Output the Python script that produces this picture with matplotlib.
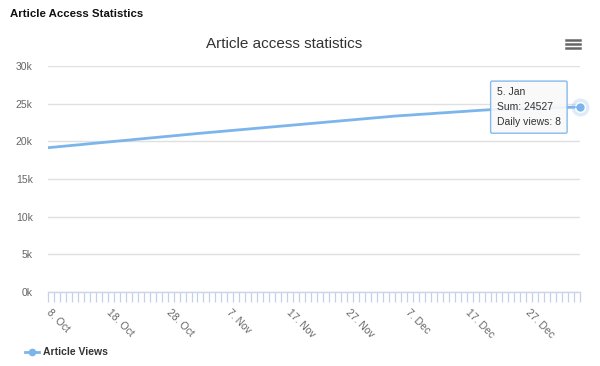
import datetime as dt

import matplotlib.pyplot as plt
import matplotlib.dates as mdates
from matplotlib.ticker import FixedLocator, FuncFormatter
from matplotlib.transforms import ScaledTranslation

plt.rcParams["font.family"] = ["Liberation Sans", "DejaVu Sans"]

# Cumulative article views per day
start_day = dt.date(2017, 10, 8)
total_views = [
    19150, 19220, 19300, 19370, 19450, 19520, 19600, 19680, 19750, 19830,
    19900, 19980, 20050, 20120, 20200, 20280, 20350, 20430, 20500, 20580,
    20650, 20730, 20800, 20880,                                      # Oct
    20950, 21030, 21100, 21170, 21240, 21310, 21380, 21450, 21520, 21590,
    21660, 21730, 21800, 21870, 21940, 22010, 22080, 22150, 22220, 22290,
    22360, 22430, 22500, 22570, 22640, 22710, 22780, 22850, 22920, 22990,  # Nov
    23060, 23130, 23200, 23270, 23340, 23400, 23450, 23500, 23560, 23610,
    23660, 23720, 23770, 23820, 23880, 23930, 23980, 24040, 24090, 24140,
    24190, 24220, 24250, 24270, 24290, 24310, 24330, 24360, 24380, 24400,
    24430,                                                           # Dec
    24450, 24480, 24500, 24519, 24527,                               # Jan
]
days = [start_day + dt.timedelta(days=i) for i in range(len(total_views))]
y_ticks = [0, 5000, 10000, 15000, 20000, 25000, 30000]
label_every = 10

tooltip_date = "5. Jan"
tooltip_sum = 24527
tooltip_daily = 8

line_color = "#7cb5ec"
text_color = "#333333"
label_color = "#666666"

fig = plt.figure(figsize=(6, 3.66), dpi=100)
ax = fig.add_axes([0.08, 0.202, 0.887, 0.618])

x = mdates.date2num(days)
ax.plot(x, total_views, color=line_color, linewidth=2, solid_capstyle="round", zorder=3)

# hovered last point: halo + marker
ax.plot(x[-1], total_views[-1], "o", color=line_color, markersize=13, alpha=0.25,
        markeredgewidth=0, zorder=4, clip_on=False)
ax.plot(x[-1], total_views[-1], "o", color=line_color, markersize=7,
        markeredgecolor="white", markeredgewidth=1, zorder=5, clip_on=False)

ax.set_xlim(x[0], x[-1])
ax.set_ylim(0, 30000)

# y axis: horizontal grid, labels like "25k"
ax.yaxis.set_major_locator(FixedLocator(y_ticks))
ax.yaxis.set_major_formatter(FuncFormatter(lambda v, p: f"{int(v / 1000)}k"))
ax.grid(axis="y", color="#e0e0e0", linewidth=1)
ax.tick_params(axis="y", length=0, labelsize=7.5, labelcolor=label_color, pad=11)

# x axis: a tick every day, a label every ten days
ax.xaxis.set_major_locator(FixedLocator(x[::label_every]))
ax.xaxis.set_minor_locator(FixedLocator(x))
ax.xaxis.set_major_formatter(FuncFormatter(
    lambda v, p: f"{mdates.num2date(v).day}. {mdates.num2date(v):%b}"))
ax.tick_params(axis="x", which="both", length=7, width=0.9, color="#c4d0e8",
               labelsize=7.5, labelcolor=label_color, pad=4)
shift = ScaledTranslation(4 / 100, 0, fig.dpi_scale_trans)
for lbl in ax.get_xticklabels():
    lbl.set_rotation(-45)
    lbl.set_ha("left")
    lbl.set_va("top")
    lbl.set_rotation_mode("anchor")
    lbl.set_transform(lbl.get_transform() + shift)

for side in ["top", "right", "left"]:
    ax.spines[side].set_visible(False)
ax.spines["bottom"].set_color("#ccd6eb")
ax.spines["bottom"].set_linewidth(1)
ax.set_axisbelow(True)

# tooltip box, pointing at the hovered point
ax.annotate("", xy=(x[-1], total_views[-1]), xytext=(-9, 0), textcoords="offset points",
            arrowprops=dict(arrowstyle="-", color=line_color, lw=1),
            zorder=5, annotation_clip=False)
ax.annotate(f"{tooltip_date}\nSum: {tooltip_sum}\nDaily views: {tooltip_daily}",
            xy=(x[-1], total_views[-1]), xytext=(-60, 0), textcoords="offset points",
            ha="left", va="center", fontsize=7.5, color=text_color, linespacing=1.6,
            bbox=dict(boxstyle="round,pad=0.6,rounding_size=0.15", fc="#f9f9f9",
                      ec=line_color, lw=1, alpha=0.92),
            zorder=6, annotation_clip=False)

# page header, chart title, menu icon
fig.text(10 / 600, 1 - 14 / 366, "Article Access Statistics", fontsize=8.2,
         fontweight="bold", color="#111111", ha="left", va="center")
fig.text(284 / 600, 1 - 44 / 366, "Article access statistics", fontsize=11,
         color=text_color, ha="center", va="center")
for dy in (-4, 0, 4):
    fig.add_artist(plt.Line2D([566 / 600, 580 / 600],
                              [1 - (44 + dy) / 366] * 2,
                              color="#666666", linewidth=1.8))

# legend at bottom left
fig.add_artist(plt.Line2D([25 / 600, 39 / 600], [1 - 352 / 366] * 2,
                          color=line_color, linewidth=2))
fig.add_artist(plt.Line2D([32 / 600], [1 - 352 / 366], marker="o",
                          color=line_color, markersize=4.5))
fig.text(43 / 600, 1 - 352 / 366, "Article Views", fontsize=7.5, fontweight="bold",
         color=text_color, ha="left", va="center")

fig.savefig("out.png", dpi=100, facecolor="white")
